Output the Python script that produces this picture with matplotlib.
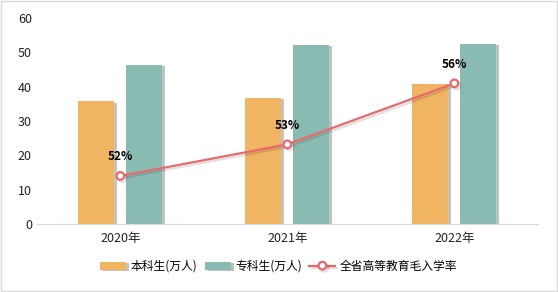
import matplotlib.pyplot as plt
import matplotlib.patheffects as pe
import numpy as np

plt.rcParams['font.family'] = ['Noto Sans CJK SC', 'DejaVu Sans']

years = ['2020年', '2021年', '2022年']
undergrad = [35.8, 36.7, 40.8]      # 本科生(万人)
junior = [46.3, 52.2, 52.5]         # 专科生(万人)
enroll_rate = [51.7, 53.2, 56.1]    # 全省高等教育毛入学率 (%)

fig = plt.figure(figsize=(5.58, 2.92), dpi=100)
ax = fig.add_axes([0.066, 0.233, 0.898, 0.705])

x = np.arange(len(years))
w = 0.216
shadow = [pe.SimplePatchShadow(offset=(2, -1), alpha=0.3), pe.Normal()]
b1 = ax.bar(x - 0.144, undergrad, w, color='#F0B462', label='本科生(万人)')
b2 = ax.bar(x + 0.144, junior, w, color='#8ABBB2', label='专科生(万人)')
for b in list(b1) + list(b2):
    b.set_path_effects(shadow)

ax.set_xlim(-0.5, 2.5)
ax.set_ylim(0, 60)
ax.set_yticks(range(0, 61, 10))
ax.set_xticks(x)
ax.set_xticklabels(years)
for s in ['top', 'right', 'left']:
    ax.spines[s].set_visible(False)
ax.spines['bottom'].set_color('#D9D9D9')
ax.tick_params(length=0, labelsize=9, colors='#222222')
ax.tick_params(axis='x', pad=6)

# hidden secondary axis for the rate line
ax2 = ax.twinx()
ax2.set_ylim(49.42, 59.2)
ax2.axis('off')
line, = ax2.plot(x, enroll_rate, color='#E8696B', lw=1.6, marker='o',
                 markersize=5.5, markerfacecolor='white', markeredgewidth=1.6,
                 label='全省高等教育毛入学率',
                 path_effects=[pe.SimpleLineShadow(offset=(1.5, -1.5), alpha=0.12), pe.Normal()])
for xi, v in zip(x, enroll_rate):
    ax2.annotate(f'{v:.0f}%', (xi, v), xytext=(0, 9), textcoords='offset points',
                 ha='center', va='bottom', fontsize=8.5, fontweight='bold', color='black')

handles = [b1, b2, line]
fig.legend(handles, [h.get_label() for h in handles], loc='center',
           bbox_to_anchor=(0.5, 0.088), ncol=3, frameon=False, fontsize=8.5,
           handlelength=2.2, handletextpad=0.4, columnspacing=0.6)

fig.patches.append(plt.Rectangle((0.002, 0.003), 0.996, 0.994, transform=fig.transFigure,
                                 fill=False, edgecolor='#D9D9D9', lw=1))

fig.savefig('out.png', dpi=100)
